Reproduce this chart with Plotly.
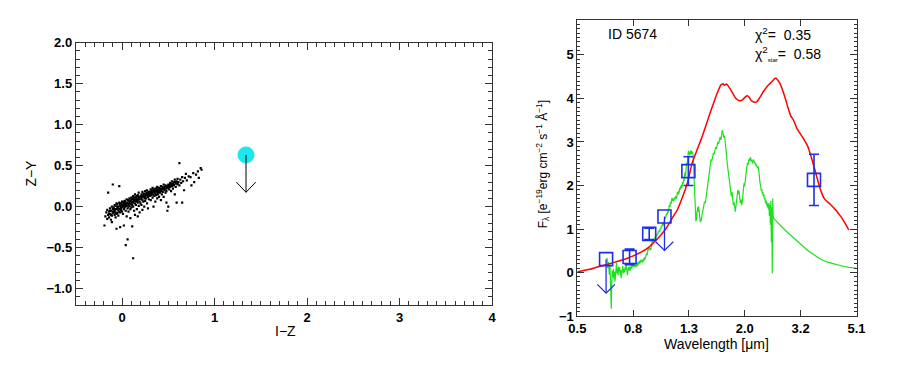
import plotly.graph_objects as go

# ---------------- Left panel: I-Z vs Z-Y colour-colour diagram ----------------
field_iz = [
 -0.19,-0.18,-0.17,-0.16,-0.16,-0.15,-0.15,-0.14,-0.14,-0.13,
 -0.13,-0.12,-0.12,-0.11,-0.11,-0.10,-0.10,-0.10,-0.11,-0.09,
 -0.09,-0.08,-0.08,-0.08,-0.07,-0.07,-0.07,-0.06,-0.06,-0.06,
 -0.05,-0.05,-0.05,-0.04,-0.04,-0.04,-0.03,-0.03,-0.03,-0.02,
 -0.02,-0.02,-0.01,-0.01,-0.01,0.00,0.00,0.00,0.01,0.01,
 0.01,0.02,0.02,0.02,0.03,0.03,0.03,0.04,0.04,0.04,
 0.05,0.05,0.05,0.06,0.06,0.06,0.07,0.07,0.07,0.08,
 0.08,0.08,0.09,0.09,0.09,0.10,0.10,0.10,0.11,0.11,
 0.11,0.12,0.12,0.12,0.12,0.13,0.13,0.13,0.14,0.14,
 0.14,0.15,0.15,0.15,0.16,0.16,0.16,0.17,0.17,0.17,
 0.18,0.18,0.18,0.19,0.19,0.19,0.20,0.20,0.21,0.21,
 0.21,0.22,0.22,0.22,0.23,0.23,0.24,0.24,0.24,0.25,
 0.25,0.25,0.26,0.26,0.27,0.27,0.27,0.28,0.28,0.28,
 0.29,0.29,0.30,0.30,0.31,0.31,0.31,0.32,0.32,0.33,
 0.33,0.33,0.34,0.34,0.34,0.35,0.35,0.36,0.36,0.36,
 0.37,0.37,0.38,0.38,0.38,0.39,0.39,0.40,0.40,0.40,
 0.41,0.41,0.42,0.42,0.42,0.43,0.43,0.44,0.44,0.45,
 0.45,0.45,0.46,0.46,0.47,0.47,0.48,0.48,0.48,0.49,
 0.49,0.50,0.50,0.50,0.51,0.51,0.52,0.52,0.53,0.53,
 0.54,0.54,0.55,0.55,0.56,0.56,0.57,0.57,0.58,0.58,
 0.59,0.59,0.60,0.60,0.61,0.62,0.62,0.63,0.64,0.65,
 0.65,0.66,0.67,0.68,0.69,0.70,0.72,0.74,0.75,0.77,
 0.80,0.82,0.83,0.85,0.86,0.78,
 -0.14,-0.13,-0.12,-0.10,-0.09,-0.08,-0.07,-0.06,-0.05,-0.04,
 -0.03,-0.02,-0.01,0.00,0.01,0.02,0.03,0.04,0.05,0.06,
 0.07,0.08,0.09,0.10,0.11,0.12,0.13,0.14,0.15,0.16,
 0.17,0.18,0.19,0.20,0.21,0.22,0.23,0.24,0.25,0.26,
 0.27,0.28,0.29,0.30,0.31,0.32,0.33,0.34,0.35,0.36,
 0.37,0.38,0.39,0.40,0.42,0.44,0.46,0.48,0.50,0.52,
 0.54,0.56,0.58,0.60,
]
field_zy = [
 -0.23,-0.12,-0.07,-0.15,-0.04,-0.10,0.17,-0.06,-0.13,-0.02,
 -0.09,-0.16,-0.05,-0.11,0.00,-0.08,-0.03,0.27,-0.19,-0.06,
 -0.01,-0.10,0.02,-0.04,-0.13,-0.07,0.01,-0.03,-0.27,0.04,
 -0.08,-0.02,0.03,-0.05,0.00,-0.11,0.05,-0.03,0.25,-0.07,
 0.01,-0.25,0.04,-0.04,-0.01,0.02,-0.06,0.06,0.00,0.05,
 -0.09,0.03,-0.03,-0.23,0.07,-0.01,0.04,-0.05,0.02,-0.47,
 0.09,0.01,-0.12,0.05,-0.02,-0.40,0.03,0.08,-0.06,0.01,
 0.10,0.05,-0.03,0.07,-0.14,0.04,0.11,-0.01,0.06,0.02,
 -0.24,0.09,-0.63,0.13,0.00,0.07,-0.05,0.11,0.04,0.15,
 -0.10,0.08,0.02,0.12,0.06,-0.03,0.10,0.14,0.05,-0.12,
 0.09,0.01,0.17,0.11,0.06,-0.07,0.13,0.04,0.10,0.15,
 0.02,0.08,0.18,-0.04,0.12,0.06,0.16,0.11,0.00,0.13,
 0.19,0.07,0.10,0.16,0.14,0.04,0.20,0.12,0.17,-0.02,
 0.15,0.09,0.18,0.13,0.16,0.21,0.08,0.14,0.19,0.17,
 0.11,0.23,0.15,0.00,0.20,0.18,0.13,0.22,0.16,0.06,
 0.19,0.14,0.24,0.17,0.10,0.21,0.15,0.19,0.23,0.12,
 0.17,0.22,0.25,0.19,0.08,0.21,0.15,0.24,0.18,0.22,
 0.27,0.12,0.20,0.24,0.17,0.26,0.22,0.05,0.19,0.25,
 -0.05,0.23,0.00,0.27,0.21,0.26,0.29,0.24,0.27,0.19,
 0.31,0.25,0.28,0.22,0.30,0.26,0.33,0.15,0.28,0.24,
 0.31,0.05,0.27,0.34,0.30,0.53,0.26,0.33,0.29,0.05,
 0.36,0.31,0.20,0.35,0.40,0.32,0.37,0.36,0.26,0.41,
 0.39,0.43,0.35,0.47,0.45,0.30,
 -0.09,-0.05,-0.10,-0.06,-0.03,-0.07,-0.03,-0.09,0.00,-0.02,
 -0.06,0.03,-0.02,0.00,0.02,0.06,0.01,0.05,0.03,0.08,
 0.00,0.06,0.03,0.08,0.10,0.05,0.09,0.07,0.11,0.13,
 0.08,0.12,0.09,0.10,0.12,0.13,0.15,0.13,0.10,0.14,
 0.17,0.15,0.18,0.16,0.18,0.17,0.20,0.18,0.21,0.19,
 0.22,0.20,0.18,0.21,0.22,0.21,0.22,0.24,0.25,0.26,
 0.28,0.27,0.30,0.29,
]
source_iz = [1.34]
source_zy = [0.63]          # upper limit in Z-Y

ic_tickvals = [0, 1, 2, 3, 4]
ic_ticktext = ["0", "1", "2", "3", "4"]
zy_tickvals = [-1.0, -0.5, 0.0, 0.5, 1.0, 1.5, 2.0]
zy_ticktext = ["−1.0", "−0.5", "0.0", "0.5", "1.0", "1.5", "2.0"]

# ---------------- Right panel: SED ----------------
galaxy_wl = [0.50,0.55,0.60,0.65,0.70,0.75,0.80,0.85,0.90,0.95,
             1.00,1.05,1.10,1.15,1.20,1.25,1.30,1.35,1.40,1.45,
             1.50,1.55,1.60,1.65,1.68,1.70,1.73,1.77,1.82,1.87,
             1.92,1.97,2.01,2.05,2.08,2.12,2.17,2.22,2.28,2.35,
             2.42,2.48,2.55,2.60,2.65,2.70,2.76,2.82,2.88,2.95,
             3.02,3.10,3.20,3.30,3.40,3.50,3.60,3.70,3.80,3.90,
             4.00,4.10,4.20,4.30,4.40,4.50,4.60,4.70,4.78]
galaxy_flux = [0.02,0.07,0.14,0.20,0.26,0.32,0.39,0.47,0.57,0.71,
               0.86,1.03,1.25,1.45,1.74,2.07,2.52,2.80,3.06,3.34,
               3.62,3.88,4.12,4.31,4.34,4.30,4.33,4.25,4.12,4.00,
               3.95,3.96,4.02,4.06,4.04,3.96,3.92,3.92,4.02,4.16,
               4.27,4.34,4.42,4.47,4.42,4.34,4.18,4.00,3.80,3.60,
               3.50,3.32,3.18,3.05,2.90,2.65,2.38,2.10,1.86,1.70,
               1.63,1.57,1.50,1.43,1.35,1.27,1.17,1.07,0.98]

dwarf_wl = [
 0.640,0.644,0.648,0.652,0.656,0.660,0.663,0.666,0.669,0.672,
 0.675,0.678,0.681,0.684,0.687,0.690,0.693,0.696,0.699,0.702,
 0.705,0.708,0.711,0.714,0.717,0.720,0.723,0.726,0.729,0.732,
 0.735,0.738,0.741,0.744,0.747,0.750,0.753,0.756,0.759,0.762,
 0.765,0.768,0.771,0.774,0.777,0.780,0.783,0.786,0.789,0.792,
 0.795,0.798,
 0.801,0.805,0.809,0.813,0.817,0.821,0.825,0.829,0.833,0.837,
 0.841,0.845,0.849,0.853,0.857,0.861,0.865,0.869,0.873,0.877,
 0.881,0.885,0.889,0.893,0.897,0.901,0.905,0.909,0.913,0.917,
 0.921,0.925,0.929,0.933,0.937,0.941,0.945,0.949,0.953,0.957,
 0.961,0.965,0.969,0.973,0.977,0.981,0.985,0.989,0.993,0.997,
 1.001,1.005,1.009,1.013,1.017,1.021,1.025,1.029,1.033,1.037,
 1.041,1.045,
 1.050,1.055,1.060,1.065,1.070,1.075,1.080,1.085,1.090,1.095,
 1.100,1.105,1.110,1.115,1.120,1.125,1.130,1.135,1.140,1.145,
 1.150,1.155,1.160,1.165,1.170,1.175,1.180,1.185,1.190,1.195,
 1.200,1.205,1.210,1.215,1.220,1.225,1.230,1.235,1.240,1.245,
 1.250,1.255,1.260,1.265,1.270,1.275,1.280,1.285,1.290,1.295,
 1.300,1.305,1.310,1.315,1.320,1.325,1.330,1.335,1.340,1.345,
 1.350,1.355,1.360,1.365,1.370,1.375,1.380,1.385,1.390,1.395,
 1.400,1.405,1.410,1.415,1.420,
 1.43,1.44,1.45,1.46,1.47,1.48,1.49,1.50,1.51,1.52,
 1.53,1.54,1.55,1.56,1.57,1.58,1.59,1.60,1.61,1.62,
 1.63,1.64,1.65,1.66,1.67,1.68,1.69,1.70,1.71,1.72,
 1.73,1.74,1.75,1.76,1.77,1.78,1.79,1.80,1.81,1.82,
 1.83,1.84,1.85,1.86,1.87,1.88,1.89,1.90,1.91,1.92,
 1.93,1.94,1.95,1.96,1.97,1.98,1.99,2.00,2.01,2.02,
 2.03,2.04,2.05,2.06,2.07,2.08,2.09,2.10,2.11,2.12,
 2.13,2.14,2.15,2.16,2.17,2.18,2.19,2.20,2.21,2.22,
 2.23,2.24,2.25,2.26,2.27,2.28,2.29,2.30,2.31,2.32,
 2.33,2.34,2.35,2.36,2.37,2.38,2.39,2.40,2.41,2.42,
 2.43,2.44,2.45,2.46,2.47,2.48,2.49,2.50,2.51,2.52,
 2.53,2.54,2.55,
 2.60,2.70,2.80,2.90,3.00,3.20,3.40,3.60,3.80,4.00,
 4.20,4.40,4.60,4.80,5.10,
]
dwarf_flux = [
 0.34,0.10,0.25,-0.05,0.15,-0.30,-0.83,-0.20,0.05,-0.10,
 0.09,-0.15,0.02,-0.20,0.05,0.18,0.23,-0.02,0.10,-0.06,
 0.14,0.02,0.12,-0.05,0.06,-0.13,0.04,0.10,0.15,0.05,
 -0.02,0.08,0.01,0.13,0.06,0.19,0.08,0.02,-0.06,0.05,
 0.12,0.06,0.14,0.04,0.10,0.07,0.16,0.09,0.23,0.15,
 0.20,0.12,
 0.18,0.14,0.21,0.12,0.17,0.22,0.15,0.24,0.19,0.27,
 0.21,0.25,0.30,0.24,0.28,0.23,0.31,0.27,0.35,0.30,
 0.38,0.36,0.44,0.40,0.50,0.55,0.51,0.59,0.54,0.56,
 0.52,0.62,0.68,0.74,0.70,0.77,0.72,0.80,0.78,0.83,
 0.81,0.86,0.84,0.90,0.88,0.95,0.93,0.98,0.94,1.02,
 1.00,1.07,1.05,1.10,1.14,1.08,1.16,1.22,1.19,1.27,
 1.24,1.30,
 1.36,1.33,1.41,1.38,1.47,1.55,1.51,1.62,1.58,1.67,
 1.72,1.65,1.69,1.64,1.73,1.68,1.71,1.76,1.70,1.80,
 1.85,1.79,1.88,1.82,1.94,1.90,1.99,1.93,2.02,1.96,
 2.08,2.03,2.14,2.10,2.24,2.30,2.21,2.40,2.52,2.47,
 2.62,2.74,2.80,2.71,2.78,2.69,2.76,2.81,2.72,2.79,
 2.74,2.76,2.70,2.45,2.15,1.85,1.55,1.30,1.18,1.22,
 1.35,1.45,1.50,1.40,1.52,1.44,1.36,1.24,1.16,1.22,
 1.18,1.26,1.32,1.28,1.40,
 1.52,1.63,1.60,1.75,1.90,2.05,2.20,2.35,2.50,2.60,
 2.56,2.68,2.75,2.72,2.82,2.88,2.84,2.95,3.00,2.96,
 3.08,3.12,3.05,3.18,3.27,3.20,3.10,3.15,3.02,2.90,
 2.70,2.50,2.35,2.22,2.10,1.98,1.90,1.75,1.85,1.70,
 1.55,1.62,1.48,1.40,1.52,1.65,1.78,1.90,1.80,1.88,
 1.72,1.60,1.68,1.55,1.62,1.78,1.95,2.05,1.98,2.15,
 2.28,2.38,2.45,2.52,2.48,2.57,2.62,2.56,2.65,2.60,
 2.55,2.58,2.50,2.60,2.58,2.55,2.50,2.52,2.45,2.48,
 2.42,2.40,2.44,2.38,2.25,2.10,2.00,1.95,1.88,1.92,
 1.80,1.85,1.75,1.80,1.68,1.72,1.60,1.66,1.55,1.62,
 1.50,1.58,1.45,1.60,1.30,1.55,1.10,1.65,0.70,1.50,
 -0.02,1.70,1.26,
 1.20,1.08,0.99,0.90,0.82,0.66,0.51,0.40,0.30,0.24,
 0.20,0.16,0.14,0.12,0.10,
]

phot_wl = [0.635, 0.772, 0.909, 1.032, 1.259, 3.58]
phot_flux = [0.31, 0.36, 0.89, 1.29, 2.33, 2.13]
phot_err = [0.0, 0.18, 0.13, 0.0, 0.33, 0.59]
phot_upper = [True, False, False, True, False, False]

wl_tickvals = [0.5, 0.795, 1.265, 2.013, 3.203, 5.1]
wl_ticktext = ["0.5", "0.8", "1.3", "2.0", "3.2", "5.1"]
flux_tickvals = [-1, 0, 1, 2, 3, 4, 5]
flux_ticktext = ["−1", "0", "1", "2", "3", "4", "5"]

FONT = "Liberation Sans, Arial, sans-serif"
BLUE = "#1f2fe8"
AX = "#333333"

# the page body has an 8px margin: lay the figure out in window pixels
W, H, PAD = 884, 349, 8


def px(xw):
    return (xw - PAD) / W


def py(yw):
    return 1 - (yw - PAD) / H


def bold(labels):
    return ["<b>%s</b>" % t for t in labels]


def down_arrows(xs, ys, length, half_w, head_h, log=False):
    ax, ay = [], []
    for x, y in zip(xs, ys):
        tip = y - length
        xl, xr = (x / half_w, x * half_w) if log else (x - half_w, x + half_w)
        ax += [x, x, None, xl, x, xr, None]
        ay += [y, tip, None, tip + head_h, tip, tip + head_h, None]
    return ax, ay


fig = go.Figure()

# left panel
fig.add_trace(go.Scatter(x=field_iz, y=field_zy, mode="markers",
                         marker=dict(size=2.2, color="black", symbol="square"),
                         xaxis="x", yaxis="y", hoverinfo="skip"))
fig.add_trace(go.Scatter(x=source_iz, y=source_zy, mode="markers",
                         marker=dict(size=17, color="#1ee8ef"),
                         xaxis="x", yaxis="y"))
lax, lay = down_arrows(source_iz, source_zy, 0.455, 0.105, 0.125)
fig.add_trace(go.Scatter(x=lax, y=lay, mode="lines",
                         line=dict(color="black", width=1),
                         xaxis="x", yaxis="y", hoverinfo="skip"))

# right panel
fig.add_trace(go.Scatter(x=dwarf_wl, y=dwarf_flux, mode="lines",
                         line=dict(color="#1ee01e", width=1.2),
                         xaxis="x2", yaxis="y2"))
fig.add_trace(go.Scatter(x=galaxy_wl, y=galaxy_flux, mode="lines",
                         line=dict(color="#ff0000", width=1.5, shape="spline", smoothing=0.6),
                         xaxis="x2", yaxis="y2"))

det = [i for i, u in enumerate(phot_upper) if not u]
lim = [i for i, u in enumerate(phot_upper) if u]
fig.add_trace(go.Scatter(x=[phot_wl[i] for i in det], y=[phot_flux[i] for i in det],
                         mode="markers",
                         marker=dict(symbol="square-open", size=13, color=BLUE,
                                     line=dict(color=BLUE, width=1.6)),
                         error_y=dict(type="data", array=[phot_err[i] for i in det],
                                      color=BLUE, thickness=1.6, width=5),
                         xaxis="x2", yaxis="y2"))
fig.add_trace(go.Scatter(x=[phot_wl[i] for i in lim], y=[phot_flux[i] for i in lim],
                         mode="markers",
                         marker=dict(symbol="square-open", size=13, color=BLUE,
                                     line=dict(color=BLUE, width=1.6)),
                         xaxis="x2", yaxis="y2"))
rax, ray = down_arrows([phot_wl[i] for i in lim], [phot_flux[i] for i in lim],
                       0.78, 1.076, 0.2, log=True)
fig.add_trace(go.Scatter(x=rax, y=ray, mode="lines",
                         line=dict(color=BLUE, width=1.3),
                         xaxis="x2", yaxis="y2", hoverinfo="skip"))

axis_common = dict(showline=True, linecolor=AX, linewidth=1, mirror="allticks",
                   ticks="inside", tickcolor=AX, tickwidth=1, showgrid=False, zeroline=False,
                   tickmode="array", tickfont=dict(family=FONT, size=13, color="black"))


def minor(dtick, length):
    return dict(tickmode="linear", tick0=0, dtick=dtick, ticks="inside", ticklen=length,
                tickwidth=1, tickcolor=AX, showgrid=False)


fig.update_layout(
    width=W, height=H,
    margin=dict(l=0, r=0, t=0, b=0),
    paper_bgcolor="white", plot_bgcolor="white",
    showlegend=False,
    font=dict(family=FONT, color="black"),
    xaxis=dict(domain=[px(68), px(493)], range=[-0.5, 4],
               tickvals=ic_tickvals, ticktext=bold(ic_ticktext),
               ticklen=7, minor=minor(0.1, 4), anchor="y", **axis_common),
    yaxis=dict(domain=[py(311), py(37)], range=[-1.2, 2.0],
               tickvals=zy_tickvals, ticktext=bold(zy_ticktext),
               ticklen=7, minor=minor(0.1, 4), anchor="x", **axis_common),
    xaxis2=dict(domain=[px(580), px(865)], type="log", range=[-0.30103, 0.70757],
                tickvals=wl_tickvals, ticktext=bold(wl_ticktext), ticklen=6,
                anchor="y2", **axis_common),
    yaxis2=dict(domain=[py(322.7), py(13.3)], range=[-1, 5.8],
                tickvals=flux_tickvals, ticktext=bold(flux_ticktext),
                ticklen=7, minor=minor(0.1, 3), anchor="x2", **axis_common),
)

ann = [
    dict(text="I−Z", x=282, y=338, size=14, angle=0, xanchor="center"),
    dict(text="Z−Y", x=22, y=173, size=14, angle=-90, xanchor="center"),
    dict(text="Wavelength [μm]", x=722.5, y=352, size=14, angle=0, xanchor="center"),
    dict(text="F<sub>λ</sub> [e<sup>−19</sup>erg cm<sup>−2</sup> s<sup>−1</sup> Å<sup>−1</sup>]",
         x=545, y=164, size=12, angle=-90, xanchor="center"),
    dict(text="ID 5674", x=609, y=28, size=14, angle=0, xanchor="left"),
    dict(text="χ<sup>2</sup>=  0.35", x=759, y=28, size=14, angle=0, xanchor="left"),
    dict(text="χ<sup>2</sup><sub><span style='font-size:6px'>star</span></sub>=  0.58",
         x=759, y=48, size=14, angle=0, xanchor="left"),
]
for a in ann:
    fig.add_annotation(text=a["text"], x=px(a["x"]), y=py(a["y"]), xref="paper", yref="paper",
                       showarrow=False, textangle=a["angle"], xanchor=a["xanchor"],
                       yanchor="middle", font=dict(family=FONT, size=a["size"], color="black"))

fig.write_html("out.html")
